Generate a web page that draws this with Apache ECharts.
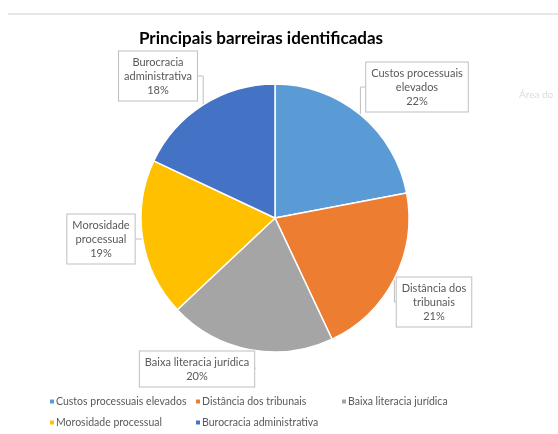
<!DOCTYPE html>
<html>
<head>
<meta charset="utf-8">
<script src="https://cdn.jsdelivr.net/npm/echarts@6/dist/echarts.min.js"></script>
<style>
  html, body { margin: 0; padding: 0; background: #fff; }
  #main { width: 558px; height: 434px; }
</style>
</head>
<body>
<div id="main"></div>
<script>
// dados do gráfico
const categorias = ['Custos processuais elevados', 'Distância dos tribunais', 'Baixa literacia jurídica', 'Morosidade processual', 'Burocracia administrativa'];
const rotulos = ['Custos processuais\nelevados', 'Distância dos\ntribunais', 'Baixa literacia jurídica', 'Morosidade\nprocessual', 'Burocracia\nadministrativa'];
const valores = [22, 21, 20, 19, 18];
const cores = ['#5B9BD5', '#ED7D31', '#A5A5A5', '#FFC000', '#4472C4'];

// posição das caixas de rótulo (centro), na ordem das categorias
const posRotulos = [[417, 87], [434, 302], [197, 369], [101, 239], [158, 76]];

var myChart = echarts.init(document.getElementById('main'));

const fonte = 'Lato';

const option = {
    color: cores,
    title: {
        text: 'Principais barreiras identificadas',
        left: 256,
        textAlign: 'center',
        top: 25,
        textStyle: { fontFamily: fonte, fontSize: 17, fontWeight: 'bold', color: '#000' }
    },
    legend: {
        left: 43,
        top: 386,
        width: 450,
        itemWidth: 6,
        itemHeight: 6,
        itemGap: 0,
        icon: 'rect',
        formatter: name => '{t|' + name + '}',
        textStyle: {
            rich: {
                t: { fontFamily: fonte, fontSize: 10.5, color: '#595959', width: 138, height: 21, lineHeight: 21, padding: [0, 0, 0, -4] }
            }
        },
        data: categorias
    },
    graphic: [
        { type: 'line', shape: { x1: 8, y1: 14, x2: 558, y2: 14 }, style: { stroke: '#e6e6e6', lineWidth: 2 } },
        { type: 'text', left: 519, top: 90, style: { text: 'Área do', fill: '#dcdcdc', font: '10px Lato' } }
    ],
    series: [{
        type: 'pie',
        center: [275, 218],
        radius: 134,
        startAngle: 90,
        clockwise: true,
        data: categorias.map((c, i) => ({ name: c, value: valores[i] })),
        itemStyle: { borderColor: '#fff', borderWidth: 1.5 },
        label: {
            position: 'outside',
            formatter: p => rotulos[p.dataIndex] + '\n' + p.value + '%',
            fontFamily: fonte,
            fontSize: 11,
            lineHeight: 14,
            color: '#595959',
            align: 'center',
            backgroundColor: '#fff',
            borderColor: '#bfbfbf',
            borderWidth: 1,
            padding: [4, 5, 3, 5]
        },
        labelLine: { show: true, lineStyle: { color: '#bfbfbf', width: 1 } },
        labelLayout: p => ({
            x: posRotulos[p.dataIndex][0],
            y: posRotulos[p.dataIndex][1],
            align: 'center',
            verticalAlign: 'middle'
        }),
        emphasis: { disabled: true }
    }]
};

myChart.setOption(option);
</script>
</body>
</html>
